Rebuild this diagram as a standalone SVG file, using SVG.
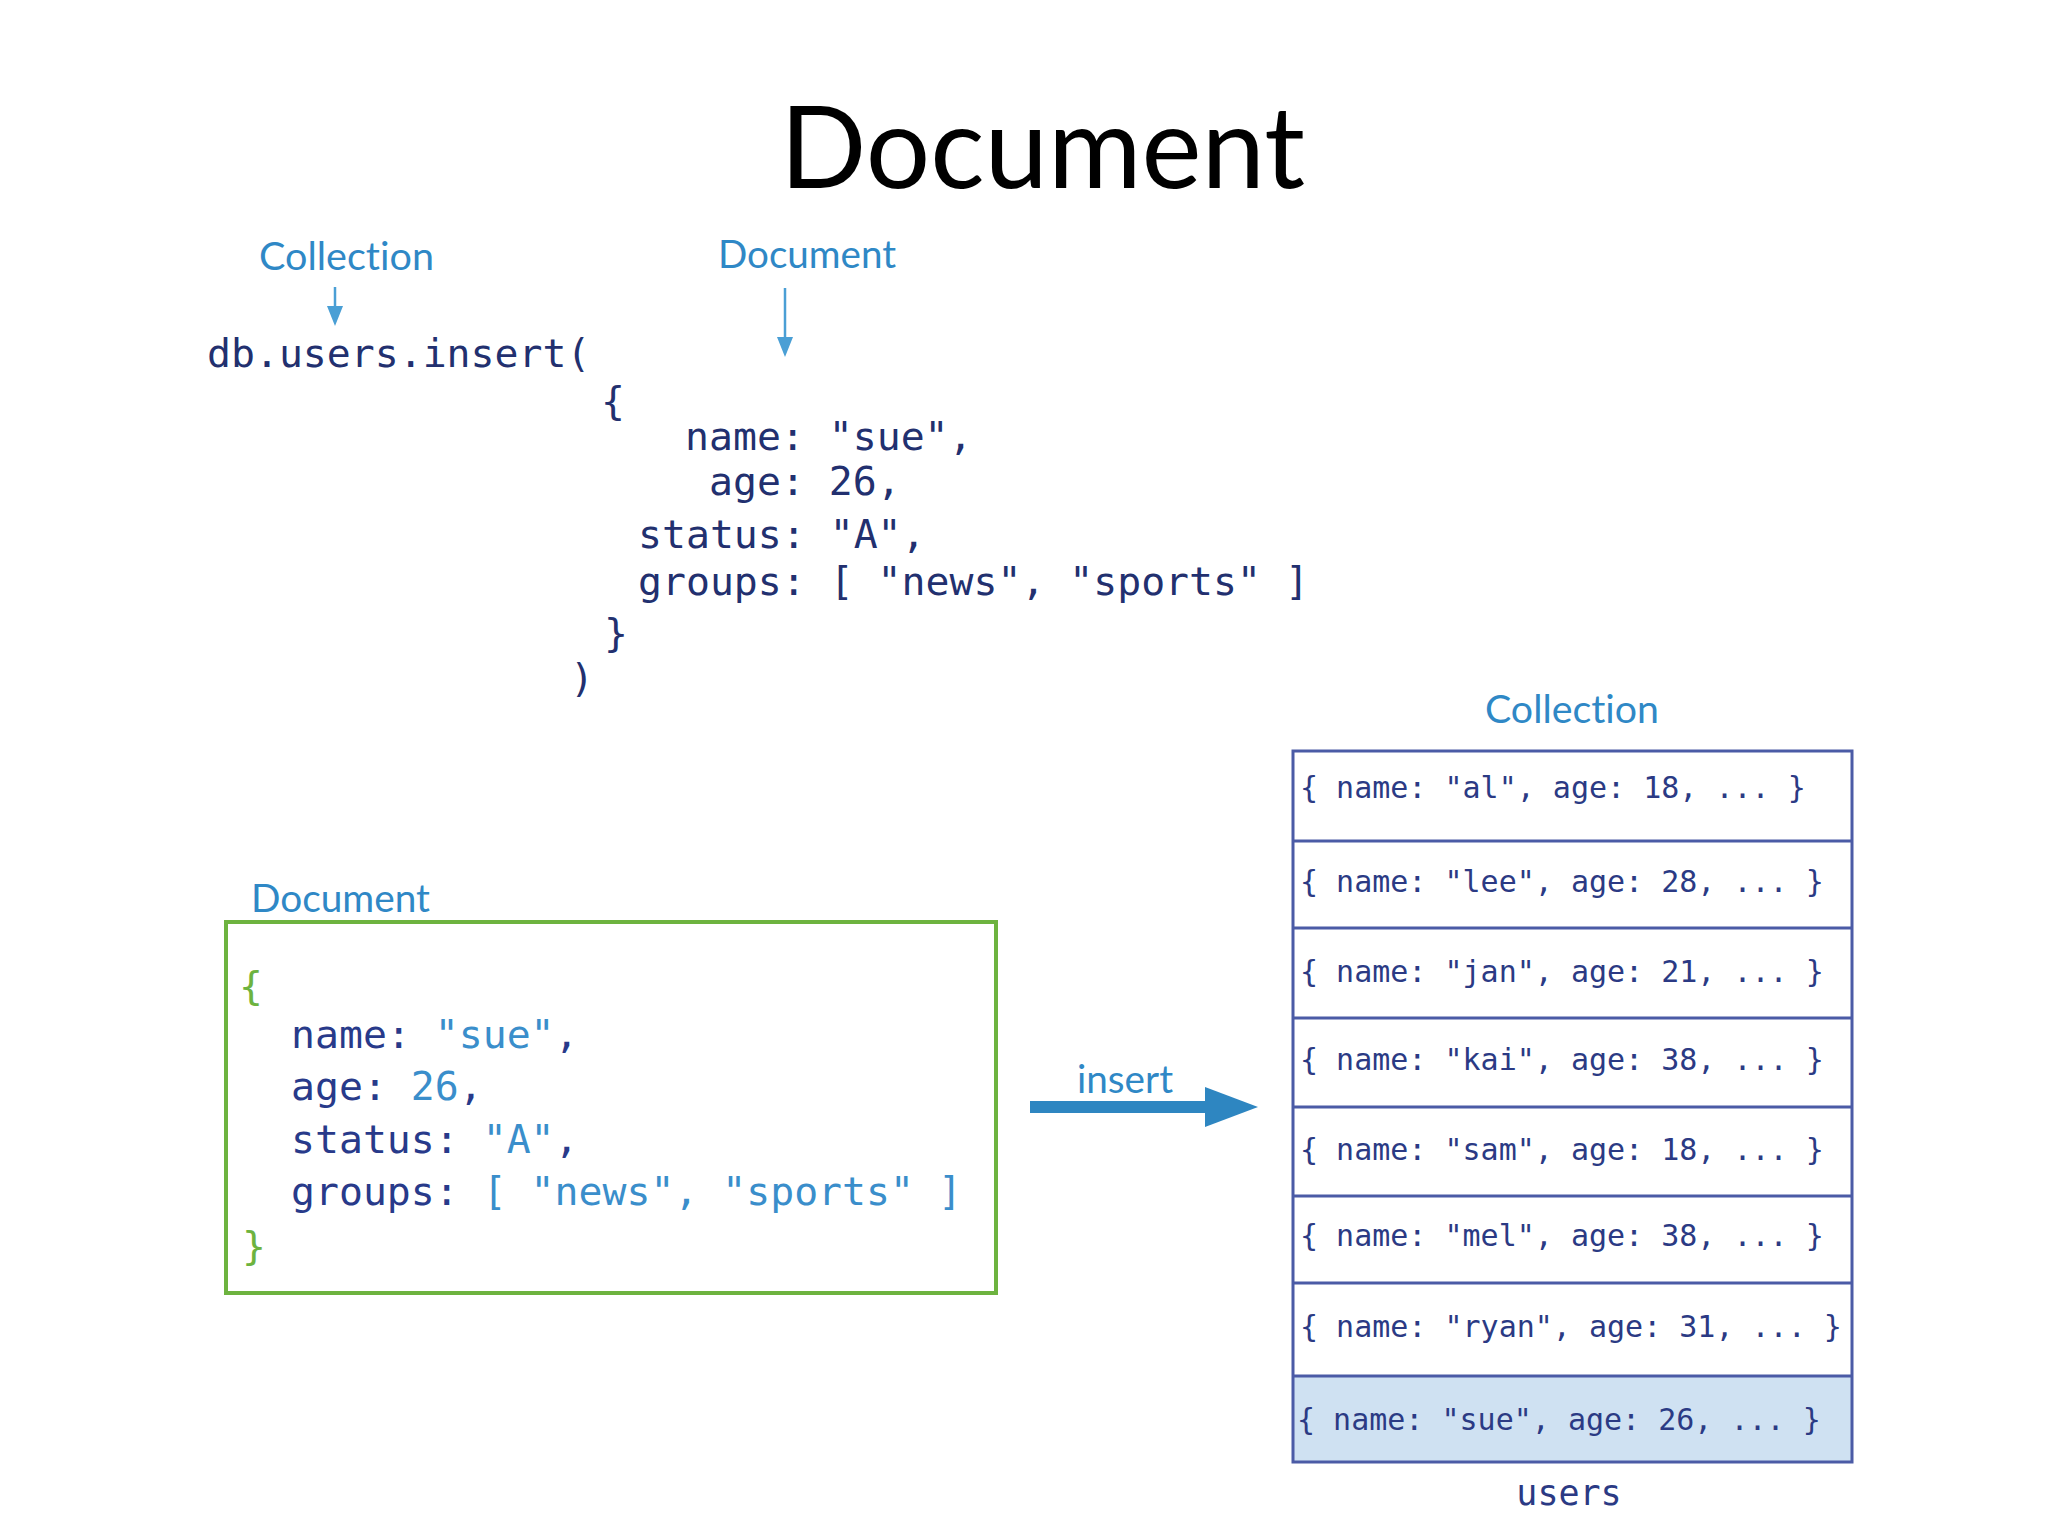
<svg xmlns="http://www.w3.org/2000/svg" width="2048" height="1536" viewBox="0 0 2048 1536">
<style>
text{font-variant-ligatures:none;font-feature-settings:"liga" 0,"clig" 0}
.lbl{font-family:Lato,"Open Sans","Liberation Sans",sans-serif;font-size:39px;fill:#2f88c6}
.code{font-family:"DejaVu Sans Mono","Liberation Mono",monospace;font-size:39.8px;fill:#22306f}
.key{fill:#283a8a}
.val{fill:#3a8ecb}
.brace{fill:#6db33f}
.row{font-family:"DejaVu Sans Mono","Liberation Mono",monospace;font-size:30px;fill:#2b3a84}
.sep{stroke:#4b5ba6;stroke-width:3}
.thin{stroke:#4a9fd5;stroke-width:2.5;fill:none}
.head{fill:#4a9fd5}
</style>
<rect x="0" y="0" width="2048" height="1536" fill="#ffffff"/>
<g id="title">
<text x="780" y="188" font-family="Lato,'Open Sans','Liberation Sans',sans-serif" font-size="114" fill="#000000" textLength="525" lengthAdjust="spacingAndGlyphs">Document</text>
</g>
<g id="code">
<text class="lbl" x="259" y="270" textLength="175" lengthAdjust="spacingAndGlyphs">Collection</text>
<text class="lbl" x="718" y="268" textLength="178" lengthAdjust="spacingAndGlyphs">Document</text>
<text class="code" x="207" y="367">db.users.insert(</text>
<text class="code" x="601" y="415">{</text>
<text class="code" x="685" y="450">name: "sue",</text>
<text class="code" x="709" y="495">age: 26,</text>
<text class="code" x="638" y="548">status: "A",</text>
<text class="code" x="638" y="595">groups: [ "news", "sports" ]</text>
<text class="code" x="604" y="647">}</text>
<text class="code" x="570" y="692">)</text>
</g>
<g id="document">
<text class="lbl" x="251" y="912" textLength="179" lengthAdjust="spacingAndGlyphs">Document</text>
<rect x="226" y="922" width="770" height="371" fill="none" stroke="#6db33f" stroke-width="4"/>
<text class="code brace" x="239" y="1000">{</text>
<text class="code" x="291" y="1048"><tspan class="key">name: </tspan><tspan class="val">"sue"</tspan><tspan class="key">,</tspan></text>
<text class="code" x="291" y="1100"><tspan class="key">age: </tspan><tspan class="val">26</tspan><tspan class="key">,</tspan></text>
<text class="code" x="291" y="1153"><tspan class="key">status: </tspan><tspan class="val">"A"</tspan><tspan class="key">,</tspan></text>
<text class="code" x="291" y="1205"><tspan class="key">groups: </tspan><tspan class="val">[ "news", "sports" ]</tspan></text>
<text class="code brace" x="242" y="1260">}</text>
</g>
<g id="collection">
<text class="lbl" x="1485" y="723" textLength="174" lengthAdjust="spacingAndGlyphs">Collection</text>
<rect x="1293" y="1376" width="559" height="86" fill="#cfe1f2"/>
<rect x="1293" y="751" width="559" height="711" fill="none" stroke="#4b5ba6" stroke-width="3"/>
<line class="sep" x1="1293" y1="841" x2="1852" y2="841"/>
<line class="sep" x1="1293" y1="928" x2="1852" y2="928"/>
<line class="sep" x1="1293" y1="1018" x2="1852" y2="1018"/>
<line class="sep" x1="1293" y1="1107" x2="1852" y2="1107"/>
<line class="sep" x1="1293" y1="1196" x2="1852" y2="1196"/>
<line class="sep" x1="1293" y1="1283" x2="1852" y2="1283"/>
<line class="sep" x1="1293" y1="1376" x2="1852" y2="1376"/>
<text class="row" x="1300" y="798">{ name: "al", age: 18, ... }</text>
<text class="row" x="1300" y="892">{ name: "lee", age: 28, ... }</text>
<text class="row" x="1300" y="982">{ name: "jan", age: 21, ... }</text>
<text class="row" x="1300" y="1070">{ name: "kai", age: 38, ... }</text>
<text class="row" x="1300" y="1160">{ name: "sam", age: 18, ... }</text>
<text class="row" x="1300" y="1246">{ name: "mel", age: 38, ... }</text>
<text class="row" x="1300" y="1337">{ name: "ryan", age: 31, ... }</text>
<text class="row" x="1297" y="1430">{ name: "sue", age: 26, ... }</text>
<text class="row" x="1569" y="1505" style="font-size:35px" text-anchor="middle">users</text>
</g>
<g id="connectors">
<line class="thin" x1="335" y1="287" x2="335" y2="310"/>
<polygon class="head" points="327,306 343,306 335,326"/>
<line class="thin" x1="785" y1="288" x2="785" y2="341"/>
<polygon class="head" points="777,337 793,337 785,357"/>
<text class="lbl" x="1077" y="1093" textLength="96" lengthAdjust="spacingAndGlyphs">insert</text>
<rect x="1030" y="1101" width="177" height="12" fill="#2e86c1"/>
<polygon points="1205,1087 1258,1107 1205,1127" fill="#2e86c1"/>
</g>
</svg>
